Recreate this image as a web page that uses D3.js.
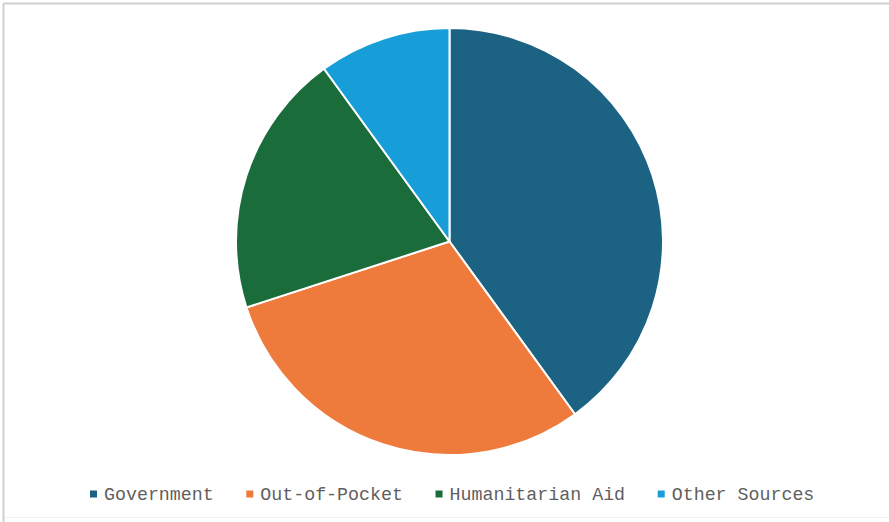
<!DOCTYPE html>
<html>
<head>
<meta charset="utf-8">
<script src="https://cdn.jsdelivr.net/npm/d3@7"></script>
<style>
  html, body { margin: 0; padding: 0; background: #fff; }
  svg { display: block; }
</style>
</head>
<body>
<svg id="chart" width="889" height="522"></svg>
<script>
// Health financing sources (share of total, %)
const categories = ["Government", "Out-of-Pocket", "Humanitarian Aid", "Other Sources"];
const values = [40, 30, 20, 10];
const colors = ["#1c6282", "#ee7b3c", "#1a6d3a", "#179ed8"];

const width = 889, height = 522;
const svg = d3.select("#chart");

// frame
svg.append("line").attr("x1", 3.5).attr("x2", width).attr("y1", 3.5).attr("y2", 3.5)
  .attr("stroke", "#cfcfcb").attr("stroke-width", 2);
svg.append("line").attr("x1", 3.5).attr("x2", 3.5).attr("y1", 3.5).attr("y2", height)
  .attr("stroke", "#cfcfcb").attr("stroke-width", 2);
svg.append("line").attr("x1", 4).attr("x2", width).attr("y1", 517.5).attr("y2", 517.5)
  .attr("stroke", "#eeeeec").attr("stroke-width", 1);

const cx = 449.5, cy = 241.5, r = 213.5;
const color = d3.scaleOrdinal().domain(categories).range(colors);

const pie = d3.pie().sort(null).value(d => d.value);
const arc = d3.arc().innerRadius(0).outerRadius(r);
const data = categories.map((c, i) => ({ name: c, value: values[i] }));

svg.append("g").attr("transform", `translate(${cx},${cy})`)
  .selectAll("path")
  .data(pie(data))
  .join("path")
  .attr("d", arc)
  .attr("fill", d => color(d.data.name))
  .attr("stroke", "#fff")
  .attr("stroke-width", 2)
  .attr("stroke-linejoin", "round");

// legend
const legend = svg.append("g").attr("transform", "translate(0,494)");
const fontSize = 18.3;
const charW = fontSize * 0.6;
let x = 90;
categories.forEach((c, i) => {
  const g = legend.append("g").attr("transform", `translate(${x},0)`);
  g.append("rect").attr("x", 0).attr("y", -3.5).attr("width", 7).attr("height", 7)
    .attr("fill", color(c));
  g.append("text").attr("x", 14).attr("y", 0).attr("dy", "0.35em")
    .attr("font-family", "'Courier New', 'Liberation Mono', monospace")
    .attr("font-size", fontSize).attr("fill", "#5f5f5f")
    .text(c);
  x += 14 + c.length * charW + 32.5;
});
</script>
</body>
</html>
